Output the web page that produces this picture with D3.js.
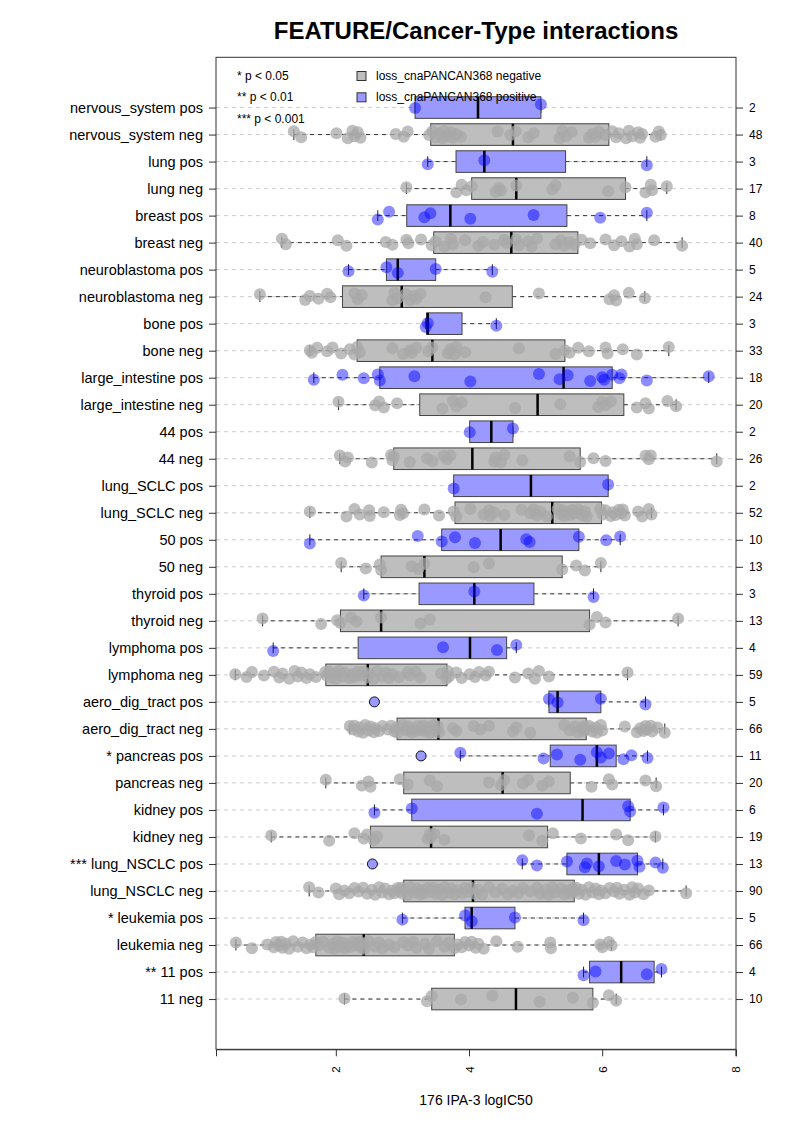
<!DOCTYPE html>
<html>
<head>
<meta charset="utf-8">
<script src="https://cdn.jsdelivr.net/npm/d3@7"></script>
<style>
  body { margin: 0; background: #fff; }
  text { font-family: "Liberation Sans", Arial, Helvetica, sans-serif; }
</style>
</head>
<body>
<div id="chart-area"></div>
<script>
// ---- data (top row first) ----
const categories = [
  "nervous_system pos", "nervous_system neg", "lung pos", "lung neg",
  "breast pos", "breast neg", "neuroblastoma pos", "neuroblastoma neg",
  "bone pos", "bone neg", "large_intestine pos", "large_intestine neg",
  "44 pos", "44 neg", "lung_SCLC pos", "lung_SCLC neg",
  "50 pos", "50 neg", "thyroid pos", "thyroid neg",
  "lymphoma pos", "lymphoma neg", "aero_dig_tract pos", "aero_dig_tract neg",
  "* pancreas pos", "pancreas neg", "kidney pos", "kidney neg",
  "*** lung_NSCLC pos", "lung_NSCLC neg", "* leukemia pos", "leukemia neg",
  "** 11 pos", "11 neg"
]

// logIC50 of each cell line, one array per row
const values = [
  [3.19, 5.08],
  [1.37, 1.48, 2.01, 2.18, 2.25, 2.28, 2.33, 2.37, 2.90, 3.02, 3.08, 3.40,
   3.45, 3.50, 3.55, 3.60, 3.63, 3.68, 3.73, 3.76, 3.81, 3.88, 4.43, 4.62,
   4.70, 4.89, 4.97, 5.36, 5.40, 5.46, 5.54, 5.80, 5.85, 5.90, 5.95, 6.05,
   6.15, 6.21, 6.25, 6.36, 6.40, 6.45, 6.54, 6.57, 6.60, 6.80, 6.85, 6.88],
  [3.38, 4.23, 6.67],
  [3.06, 3.81, 3.89, 3.96, 4.04, 4.40, 4.45, 4.48, 4.71, 5.25, 5.30, 6.09, 6.35, 6.65, 6.73, 6.75, 6.97],
  [2.63, 2.80, 3.33, 3.42, 4.02, 4.97, 5.97, 6.67],
  [1.19, 1.25, 2.03, 2.16, 2.75, 2.85, 3.06, 3.09, 3.28, 3.44,
   3.50, 3.63, 3.73, 3.76, 3.94, 4.14, 4.21, 4.38, 4.53, 4.56,
   4.71, 4.75, 4.89, 4.94, 5.02, 5.30, 5.38, 5.43, 5.51, 5.58,
   5.69, 5.82, 6.05, 6.18, 6.29, 6.41, 6.49, 6.52, 6.78, 7.20],
  [2.19, 2.76, 2.93, 3.50, 4.35],
  [0.86, 1.54, 1.61, 1.74, 1.87, 1.92, 2.28, 2.33, 2.39, 2.85, 2.88, 2.93,
   3.05, 3.11, 3.17, 3.21, 3.27, 4.25, 5.05, 6.11, 6.18, 6.21, 6.40, 6.64],
  [3.35, 3.38, 4.41],
  [1.61, 1.64, 1.72, 1.87, 1.95, 2.08, 2.21, 2.28, 2.32, 2.36, 2.85, 3.01, 3.11, 3.14, 3.21, 3.39,
   3.45, 3.68, 3.72, 3.78, 3.81, 3.94, 4.75, 5.30, 5.44, 5.51, 5.64, 5.80, 6.05, 6.08, 6.31, 6.52, 7.00],
  [1.67, 2.10, 2.42, 2.63, 2.66, 3.18, 4.02, 5.05, 5.36, 5.48, 5.82, 6.00, 6.03, 6.15, 6.26, 6.29, 6.67, 7.60],
  [2.04, 2.59, 2.65, 2.72, 2.92, 3.60, 3.76, 3.81, 3.89, 4.69, 5.37, 5.94, 6.00, 6.05, 6.13, 6.52, 6.65, 6.70, 6.98, 7.11],
  [4.01, 4.66],
  [2.06, 2.14, 2.18, 2.54, 2.83, 2.85, 2.87, 3.11, 3.37, 3.45, 3.62, 3.67, 3.72,
   4.38, 4.40, 4.48, 4.53, 4.80, 5.51, 5.67, 5.87, 6.05, 6.65, 6.70, 6.73, 7.72],
  [3.77, 6.09],
  [1.61, 2.16, 2.28, 2.36, 2.50, 2.51, 2.72, 2.96, 2.98, 3.01, 3.33, 3.55, 3.77,
   3.81, 4.02, 4.22, 4.30, 4.32, 4.38, 4.53, 4.79, 4.92, 4.97, 5.02, 5.07, 5.17,
   5.33, 5.38, 5.40, 5.43, 5.49, 5.52, 5.55, 5.59, 5.64, 5.70, 5.74, 5.77, 5.97,
   6.01, 6.05, 6.13, 6.16, 6.20, 6.25, 6.29, 6.31, 6.34, 6.54, 6.60, 6.70, 6.74],
  [1.61, 3.23, 3.59, 3.79, 4.09, 4.86, 4.91, 5.65, 6.06, 6.27],
  [2.08, 2.45, 2.66, 2.68, 3.14, 3.24, 3.33, 4.07, 4.30, 5.40, 5.61, 5.74, 5.98],
  [2.42, 4.08, 5.87],
  [0.90, 1.78, 2.02, 2.07, 2.23, 2.31, 2.68, 3.27, 3.41, 5.81, 5.92, 6.05, 7.14],
  [1.06, 3.61, 4.42, 4.71],
  [0.49, 0.66, 0.74, 0.92, 1.07, 1.15, 1.20, 1.30, 1.38, 1.43, 1.48, 1.56, 1.61, 1.70, 1.84,
   1.86, 1.90, 1.93, 1.97, 2.00, 2.05, 2.10, 2.13, 2.21, 2.25, 2.28, 2.33, 2.37, 2.41,
   2.48,
   2.49, 2.57, 2.62, 2.70, 2.75, 2.80, 2.85, 2.95, 3.08, 3.11, 3.20, 3.27, 3.58, 3.66,
   3.68, 3.70, 3.81, 3.89, 4.01, 4.09, 4.15, 4.25, 4.30, 4.69, 4.89, 4.99, 5.05, 5.20, 6.38],
  [2.58, 5.20, 5.33, 5.98, 6.65],
  [2.21, 2.26, 2.28, 2.34, 2.36, 2.41, 2.44, 2.49, 2.52, 2.57, 2.59, 2.65, 2.70, 2.78, 2.83, 2.88,
   2.92,
   2.93, 3.01, 3.06, 3.08, 3.14, 3.16, 3.21, 3.24, 3.29, 3.32, 3.34, 3.39, 3.42, 3.47, 3.50,
   3.53, 3.55,
   3.76, 3.81, 4.07, 4.17, 4.30, 4.66, 4.71, 4.92, 5.43, 5.51, 5.59, 5.64, 5.69, 5.72, 5.74,
   5.76,
   5.80, 5.85, 5.90, 5.92, 5.98, 6.00, 6.34, 6.52, 6.57, 6.62, 6.65, 6.67, 6.73, 6.75, 6.83, 6.94],
  [3.28, 3.87, 5.12, 5.32, 5.67, 5.92, 5.98, 6.10, 6.32, 6.44, 6.68],
  [1.85, 2.39, 2.49, 2.52, 2.96, 3.08, 3.41, 3.52, 4.30, 4.48, 4.53, 4.81, 4.89, 5.10, 5.20, 5.84, 6.10, 6.15, 6.65, 6.81],
  [2.58, 3.14, 5.02, 6.39, 6.42, 6.92],
  [1.03, 1.90, 2.28, 2.42, 2.47, 2.57, 2.62, 3.38, 3.41, 3.43, 3.48, 3.63, 4.90, 5.10, 5.26, 5.68, 6.21, 6.39, 6.80],
  [2.55, 4.80, 5.02, 5.47, 5.74, 5.77, 5.95, 6.21, 6.34, 6.53, 6.56, 6.80, 6.91],
  [1.60, 1.74, 2.00, 2.05, 2.13, 2.20, 2.28, 2.34, 2.41, 2.47, 2.54, 2.59, 2.65, 2.70, 2.74, 2.80, 2.85, 2.88, 2.93, 2.96, 2.98, 3.00,
   3.02,
   3.08, 3.12, 3.18, 3.22, 3.27, 3.30, 3.34, 3.38, 3.42, 3.46, 3.50, 3.55, 3.60, 3.63, 3.70, 3.73, 3.78, 3.83, 3.90, 3.94, 3.99, 4.03,
   4.09, 4.14, 4.20, 4.30, 4.40, 4.50, 4.58, 4.66, 4.74, 4.81, 4.92, 5.02, 5.07, 5.15, 5.20, 5.25, 5.30, 5.38, 5.43, 5.48, 5.53, 5.56,
   5.58,
   5.61, 5.65, 5.69, 5.75, 5.80, 5.85, 5.90, 5.95, 5.98, 6.05, 6.11, 6.18, 6.22, 6.26, 6.33, 6.41, 6.45, 6.49, 6.54, 6.62, 6.70, 7.26],
  [3.00, 3.94, 4.04, 4.69, 5.72],
  [0.50, 0.74, 0.97, 1.07, 1.10, 1.15, 1.18, 1.20, 1.25, 1.30, 1.36, 1.43, 1.50, 1.56, 1.62, 1.66,
   1.70,
   1.74, 1.81, 1.90, 1.95, 1.98, 2.02, 2.05, 2.10, 2.13, 2.18, 2.21, 2.26, 2.30, 2.35, 2.39,
   2.41, 2.43,
   2.49, 2.59, 2.65, 2.70, 2.80, 2.88, 3.01, 3.08, 3.16, 3.21, 3.34, 3.40, 3.52, 3.63, 3.70,
   3.78,
   3.83, 3.89, 3.94, 4.00, 4.04, 4.10, 4.14, 4.22, 4.41, 4.73, 5.22, 5.23, 5.97, 6.00, 6.10, 6.14],
  [5.72, 5.90, 6.67, 6.89],
  [2.13, 3.37, 3.44, 3.88, 4.35, 5.06, 5.56, 5.86, 6.10, 6.21]
]

const legendLabels = ["loss_cnaPANCAN368 negative", "loss_cnaPANCAN368 positive"]
const pLabels = ["* p < 0.05", "** p < 0.01", "*** p < 0.001"]
const xTicks = [2, 4, 6, 8]
const xTitle = "176 IPA-3 logIC50"
const chartTitle = "FEATURE/Cancer-Type interactions"

// ---- layout ----
let width = 793
let height = 1122
let plot = {left: 216, right: 736, top: 57.3, bottom: 1049.3}

const negFill = "#bebebe", posFill = "#9999ff"
const negPoint = "rgba(168,168,168,0.75)", posPoint = "rgba(0,0,255,0.45)"
// small fixed vertical offsets, in row units, so points don't sit on one line
const jitter = [0.02, -0.12, 0.10, -0.05, 0.14, -0.14, 0.06, -0.09, 0.12, -0.02, 0.08, -0.11]

// R style fivenum + boxplot.stats
function fivenum(v) {
  let s = v.slice().sort((a, b) => a - b), n = s.length
  let n4 = Math.floor((n + 3) / 2) / 2
  return [1, n4, (n + 1) / 2, n + 1 - n4, n].map(k => 0.5 * (s[Math.floor(k) - 1] + s[Math.ceil(k) - 1]))
}
function boxStats(v) {
  let f = fivenum(v)
  let iqr = f[3] - f[1]
  let inside = v.filter(d => d >= f[1] - 1.5 * iqr && d <= f[3] + 1.5 * iqr)
  return {
    lo: d3.min(inside), q1: f[1], med: f[2], q3: f[3], hi: d3.max(inside),
    out: v.filter(d => d < f[1] - 1.5 * iqr || d > f[3] + 1.5 * iqr)
  }
}

const N = categories.length
const all = values.flat()
const [vmin, vmax] = d3.extent(all)
const xpad = 0.04 * (vmax - vmin)

let x = d3.scaleLinear().domain([vmin - xpad, vmax + xpad]).range([plot.left, plot.right])
let y = d3.scaleLinear().domain([0.5 - 0.04 * N, N + 0.5 + 0.04 * N]).range([plot.bottom, plot.top])
const rowPos = i => N - i
const unit = Math.abs(y(1) - y(0))
const halfBox = 0.4 * unit

let svg = d3.select("#chart-area")
  .append("svg")
    .attr("width", width)
    .attr("height", height)

// grid lines
svg.append("g").selectAll("line").data(categories).enter()
  .append("line")
    .attr("x1", plot.left).attr("x2", plot.right)
    .attr("y1", (d, i) => y(rowPos(i))).attr("y2", (d, i) => y(rowPos(i)))
    .attr("stroke", "#cccccc").attr("stroke-dasharray", "4,4")

// boxes
let rows = categories.map((c, i) => {
  let s = boxStats(values[i])
  s.pos = c.endsWith("pos")
  s.cy = y(rowPos(i))
  s.i = i
  return s
})

let boxes = svg.append("g").selectAll("g").data(rows).enter().append("g")

boxes.append("line")
  .attr("x1", d => x(d.lo)).attr("x2", d => x(d.q1))
  .attr("y1", d => d.cy).attr("y2", d => d.cy)
  .attr("stroke", "#333").attr("stroke-dasharray", "4,4")
boxes.append("line")
  .attr("x1", d => x(d.q3)).attr("x2", d => x(d.hi))
  .attr("y1", d => d.cy).attr("y2", d => d.cy)
  .attr("stroke", "#333").attr("stroke-dasharray", "4,4")
boxes.selectAll(".staple").data(d => [[d.lo, d.cy], [d.hi, d.cy]]).enter()
  .append("line")
    .attr("x1", d => x(d[0])).attr("x2", d => x(d[0]))
    .attr("y1", d => d[1] - halfBox / 2).attr("y2", d => d[1] + halfBox / 2)
    .attr("stroke", "#222")
boxes.append("rect")
  .attr("x", d => x(d.q1))
  .attr("y", d => d.cy - halfBox)
  .attr("width", d => x(d.q3) - x(d.q1))
  .attr("height", 2 * halfBox)
  .attr("fill", d => d.pos ? posFill : negFill)
  .attr("stroke", "#444")
boxes.append("line")
  .attr("x1", d => x(d.med)).attr("x2", d => x(d.med))
  .attr("y1", d => d.cy - halfBox).attr("y2", d => d.cy + halfBox)
  .attr("stroke", "#000").attr("stroke-width", 2.5)

// jittered points
let pts = []
rows.forEach(r => {
  values[r.i].slice().sort((a, b) => a - b).forEach((v, j) => {
    if (r.out.includes(v)) return
    pts.push({v: v, cy: r.cy + jitter[(j + r.i) % jitter.length] * unit, pos: r.pos})
  })
})
svg.append("g").selectAll("circle").data(pts).enter()
  .append("circle")
    .attr("cx", d => x(d.v))
    .attr("cy", d => d.cy)
    .attr("r", 6)
    .attr("fill", d => d.pos ? posPoint : negPoint)

// outliers
let outs = []
rows.forEach(r => r.out.forEach(v => outs.push({v: v, cy: r.cy, pos: r.pos})))
svg.append("g").selectAll("circle").data(outs).enter()
  .append("circle")
    .attr("cx", d => x(d.v)).attr("cy", d => d.cy).attr("r", 5)
    .attr("fill", d => d.pos ? posFill : negFill)
    .attr("stroke", "#111")

// frame
svg.append("rect")
  .attr("x", plot.left).attr("y", plot.top)
  .attr("width", plot.right - plot.left).attr("height", plot.bottom - plot.top)
  .attr("fill", "none").attr("stroke", "#333")

// axes
let idx = d3.range(N)
let leftAxis = d3.axisLeft(y).tickValues(idx.map(rowPos)).tickSize(7).tickPadding(6)
  .tickFormat(p => categories[N - p])
let gl = svg.append("g").attr("transform", "translate(" + plot.left + ",0)").call(leftAxis)
gl.select(".domain").remove()
gl.selectAll("line").attr("stroke", "#333")
gl.selectAll("text").attr("font-size", "14.5px").attr("fill", "#000")
  .style("font-family", "'Liberation Sans', Arial, sans-serif")

let rightAxis = d3.axisRight(y).tickValues(idx.map(rowPos)).tickSize(7).tickPadding(6)
  .tickFormat(p => values[N - p].length)
let gr = svg.append("g").attr("transform", "translate(" + plot.right + ",0)").call(rightAxis)
gr.select(".domain").remove()
gr.selectAll("line").attr("stroke", "#333")
gr.selectAll("text").attr("font-size", "12px").attr("fill", "#000")
  .style("font-family", "'Liberation Sans', Arial, sans-serif")

let bottomAxis = d3.axisBottom(x).tickValues(xTicks).tickSize(7).tickFormat(d3.format("d"))
let gb = svg.append("g").attr("transform", "translate(0," + plot.bottom + ")").call(bottomAxis)
gb.select(".domain").attr("stroke", "#333")
gb.selectAll("line").attr("stroke", "#333")
gb.selectAll("text")
  .attr("font-size", "11.5px").attr("fill", "#000")
  .style("font-family", "'Liberation Sans', Arial, sans-serif")
  .attr("text-anchor", "end")
  .attr("x", -17).attr("y", 0).attr("dy", "0.35em")
  .attr("transform", "rotate(-90)")

// titles
svg.append("text")
  .attr("x", (plot.left + plot.right) / 2).attr("y", 39)
  .attr("text-anchor", "middle").attr("font-size", "24px").attr("font-weight", "bold")
  .text(chartTitle)

svg.append("text")
  .attr("x", (plot.left + plot.right) / 2).attr("y", 1105)
  .attr("text-anchor", "middle").attr("font-size", "14px")
  .text(xTitle)

// legends
svg.append("g").selectAll("text").data(pLabels).enter()
  .append("text")
    .attr("x", 237).attr("y", (d, i) => 80 + i * 21.3)
    .attr("font-size", "12px")
    .text(d => d)

let lg = svg.append("g").selectAll("g").data(legendLabels).enter().append("g")
lg.append("rect")
  .attr("x", 357).attr("y", (d, i) => 71.5 + i * 21.3)
  .attr("width", 9).attr("height", 9)
  .attr("fill", (d, i) => i ? posFill : negFill).attr("stroke", "#333")
lg.append("text")
  .attr("x", 376).attr("y", (d, i) => 80 + i * 21.3)
  .attr("font-size", "12px")
  .text(d => d)
</script>
</body>
</html>
